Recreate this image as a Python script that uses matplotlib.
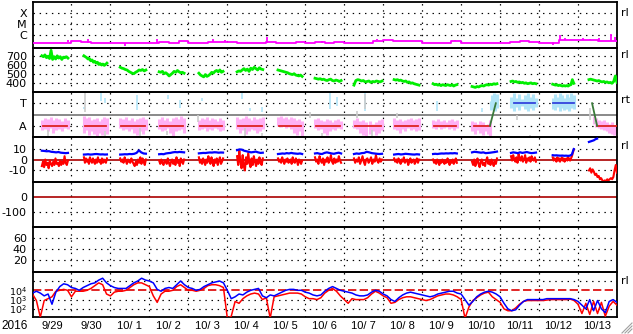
import numpy as np
import matplotlib
matplotlib.use('Agg')
import matplotlib.pyplot as plt
from matplotlib.lines import Line2D

plt.rcParams['font.family'] = ['DejaVu Sans']
plt.rcParams['mathtext.fontset'] = 'dejavusans'

# ---------------- data ----------------
n_days = 15
day_labels = ['9/29', '9/30', '10/ 1', '10/ 2', '10/ 3', '10/ 4', '10/ 5', '10/ 6',
              '10/ 7', '10/ 8', '10/ 9', '10/10', '10/11', '10/12', '10/13']
year_label = '2016'

# X-ray flux (log10 W/m2), 0.25-day steps
xray_step = 0.25
xray_log = [-6.70, -6.72, -6.70, -6.70, -6.55, -6.60, -6.73, -6.73, -6.76, -6.76,
            -6.70, -6.70, -6.70, -6.68, -6.70, -6.55, -6.70, -6.70, -6.68, -6.60,
            -6.65, -6.70, -6.72, -6.72, -6.68, -6.70, -6.70, -6.68, -6.70, -6.65,
            -6.70, -6.65, -6.70, -6.72, -6.72, -6.50, -6.45, -6.55, -6.55, -6.55,
            -6.72, -6.72, -6.72, -6.50, -6.72, -6.75, -6.70, -6.70, -6.70, -6.68,
            -6.52, -6.60, -6.70, -6.70, -6.45, -6.45, -6.45, -6.45, -6.55, -6.50, -6.50]
xray_spike_t = [0.92, 1.42, 2.38, 3.20, 4.63, 4.94, 6.02, 7.43, 8.84, 10.84,
                13.36, 13.54, 13.67, 14.12, 14.30, 14.55, 14.84, 14.95]
xray_spike_v = [-6.45, -6.40, -6.97, -6.40, -6.40, -6.45, -6.20, -6.50, -6.40, -6.45,
                -6.93, -6.00, -6.30, -6.30, -6.35, -6.25, -5.94, -6.20]

# data segments (days since 9/29 00UT)
seg_start = [0.24, 1.32, 2.25, 3.25, 4.27, 5.25, 6.30, 7.25, 8.25, 9.28, 10.28, 11.28, 12.28, 13.35, 14.28]
seg_end = [0.91, 1.91, 2.91, 3.89, 4.89, 5.91, 6.92, 7.92, 8.97, 9.92, 10.89, 11.92, 12.92, 13.89, 15.0]

# solar wind speed (km/s)
vsw = [
    [700, 690, 710, 680, 695, 670, 760, 660, 690, 665, 700, 675, 690, 660, 685, 680, 690, 675],
    [700, 690, 680, 665, 670, 645, 655, 630, 640, 620, 630, 605, 615, 600, 610, 595, 605, 620],
    [575, 565, 560, 550, 545, 530, 520, 510, 505, 520, 530, 545, 540, 550, 535, 545],
    [525, 520, 530, 505, 515, 500, 480, 495, 510, 530, 520, 540, 525, 515, 520, 510],
    [510, 490, 480, 470, 495, 475, 485, 500, 520, 510, 530, 540, 525, 545, 520, 530],
    [525, 535, 530, 545, 560, 540, 555, 530, 565, 550, 575, 560, 545, 570, 555, 550],
    [545, 540, 535, 530, 525, 520, 515, 505, 500, 495, 505, 490, 485, 480, 490, 475],
    [455, 450, 445, 450, 440, 445, 435, 430, 440, 445, 430, 425, 435, 430, 420, 430],
    [380, 430, 440, 435, 425, 430, 415, 420, 425, 410, 420, 415, 425, 420, 415, 425],
    [440, 435, 440, 430, 435, 425, 420, 425, 410, 415, 400, 405, 395, 390, 385, 380],
    [395, 385, 390, 380, 385, 375, 385, 380, 375, 385, 380, 375, 385, 370, 380, 385],
    [365, 360, 355, 365, 360, 370, 375, 370, 380, 385, 380, 390, 385, 395, 390, 395],
    [420, 425, 415, 420, 410, 415, 405, 410, 400, 405, 395, 400, 405, 395, 400, 395],
    [390, 385, 380, 385, 375, 380, 375, 370, 375, 370, 375, 370, 380, 385, 440, 400],
    [440, 445, 440, 435, 430, 425, 430, 420, 415, 420, 410, 415, 405, 410, 400, 420, 480, 410],
]

# composition panel: pink (A) blocks
pink_start = [0.24, 1.32, 2.25, 3.25, 4.27, 5.25, 6.30, 7.25, 8.25, 9.28, 10.28, 11.28, 14.40]
pink_end = [0.91, 1.91, 2.91, 3.89, 4.89, 5.91, 6.92, 7.92, 8.97, 9.92, 10.89, 11.75, 15.0]
pink_hi = [
    [-0.5, -0.3, -0.4, -0.2, -0.5, -0.3, -0.4, -0.6, -0.3, -0.5],
    [-0.1, -0.3, -0.2, -0.5, -0.4, -0.3, -0.6, -0.4, -0.2, -0.3],
    [-0.3, -0.4, -0.2, -0.5, -0.3, -0.6, -0.4, -0.3, -0.2, -0.4],
    [-0.4, -0.2, -0.5, -0.3, -0.6, -0.3, -0.2, -0.4, -0.1, -0.3],
    [-0.5, -0.3, -0.4, -0.2, -0.5, -0.3, -0.4, -0.6, -0.3, -0.5],
    [-0.2, -0.4, -0.3, -0.1, -0.3, -0.5, -0.2, -0.4, -0.3, -0.2],
    [-0.2, -0.1, -0.3, -0.2, -0.4, -0.2, -0.3, -0.5, -0.4, -0.6],
    [-0.4, -0.3, -0.5, -0.6, -0.4, -0.5, -0.7, -0.5, -0.4, -0.6],
    [-0.5, -0.3, -0.6, -0.5, -0.7, -0.6, -0.8, -0.7, -0.5, -0.4],
    [-0.3, -0.5, -0.4, -0.6, -0.5, -0.4, -0.3, -0.5, -0.4, -0.3],
    [-0.5, -0.6, -0.4, -0.6, -0.5, -0.7, -0.5, -0.4, -0.6, -0.5],
    [-0.6, -0.7, -0.8, -0.6, -0.7, -0.9, -0.8, -0.5],
    [-0.1, -0.3, -0.5, -0.6, -0.5, -0.7, -0.8, -0.7, -0.9, -0.8],
]
pink_lo = [
    [-1.4, -1.3, -1.5, -1.2, -1.6, -1.4, -1.3, -1.5, -1.2, -1.3],
    [-1.6, -1.4, -1.8, -1.5, -1.7, -1.9, -1.6, -1.8, -1.5, -1.7],
    [-1.2, -1.4, -1.3, -1.5, -1.3, -1.6, -1.8, -1.5, -1.7, -1.4],
    [-1.3, -1.5, -1.4, -1.2, -1.6, -1.9, -1.5, -1.4, -1.3, -1.6],
    [-1.4, -1.3, -1.2, -1.5, -1.3, -1.4, -1.2, -1.3, -1.5, -1.4],
    [-1.3, -1.6, -1.4, -1.7, -1.5, -1.3, -1.4, -1.6, -1.5, -1.3],
    [-1.0, -1.1, -1.0, -1.2, -1.1, -1.3, -1.6, -1.8, -1.5, -1.9],
    [-1.2, -1.4, -1.3, -1.6, -1.8, -1.5, -1.3, -1.4, -1.2, -1.3],
    [-1.2, -1.3, -1.6, -1.8, -1.9, -1.7, -1.5, -1.8, -1.6, -1.4],
    [-1.3, -1.4, -1.6, -1.3, -1.5, -1.2, -1.4, -1.3, -1.5, -1.4],
    [-1.2, -1.3, -1.1, -1.3, -1.2, -1.1, -1.3, -1.2, -1.4, -1.2],
    [-1.5, -1.7, -1.4, -1.6, -1.8, -1.5, -1.7, -1.9],
    [-0.8, -1.1, -1.2, -1.3, -1.4, -1.5, -1.6, -1.7, -1.8, -1.6],
]
# composition panel: light-blue (T) blocks
tblk_start = [11.76, 12.28, 13.35]
tblk_end = [11.92, 12.92, 13.89]
tblk_hi = [[1.2, 1.7, 1.9, 1.5, 1.8],
           [1.6, 1.9, 1.5, 1.8, 1.4, 1.7, 1.9, 1.6, 1.8, 1.5],
           [1.5, 1.8, 1.6, 1.9, 1.7, 1.5, 1.8, 1.6, 1.9, 1.7]]
tblk_lo = [[0.4, 0.8, 0.5, 0.3, 0.6],
           [0.6, 0.3, 0.7, 0.4, 0.8, 0.5, 0.3, 0.6, 0.4, 0.7],
           [0.5, 0.4, 0.7, 0.3, 0.6, 0.4, 0.5, 0.3, 0.6, 0.5]]
# isolated light-blue samples
lb_t = [1.32, 1.75, 1.85, 2.68, 3.48, 3.78, 4.35, 5.38, 5.58, 5.89, 7.63, 7.81, 8.53, 10.38, 11.53]
lb_lo = [0.5, 1.2, 1.0, 0.4, 1.4, 0.6, 1.2, 1.4, 0.3, 0.2, 0.5, 0.8, 0.3, 0.3, 0.2]
lb_hi = [0.7, 1.9, 1.5, 1.7, 1.7, 1.3, 1.5, 1.9, 0.6, 0.7, 1.9, 1.6, 1.9, 1.2, 0.6]
# isolated grey samples
gr_t = [0.40, 1.35, 1.86, 2.76, 3.45, 4.26, 5.45, 5.89, 7.12, 7.43, 8.33, 8.53, 8.71, 9.36, 12.43, 12.77, 14.31, 14.43]
gr_lo = [-1.9, 0.2, -1.9, -1.9, -1.8, -0.7, -1.9, -1.9, -0.3, -1.9, -0.3, 0.5, -1.9, -0.3, -0.5, -2.0, -0.5, -0.8]
gr_hi = [-1.4, 1.9, -1.5, -1.2, -1.5, 0.0, -1.2, -1.6, 0.2, -1.6, 0.3, 1.8, -1.4, 0.1, 0.0, -1.8, 0.6, -0.4]
# sector (A = away, T = toward)
sector_start = [0.27, 1.35, 2.28, 3.28, 4.30, 5.28, 6.33, 7.28, 8.28, 9.31, 10.31, 11.33, 12.36, 13.36, 14.49]
sector_end = [0.89, 1.89, 2.89, 3.87, 4.87, 5.89, 6.90, 7.90, 8.95, 9.90, 10.87, 11.74, 12.90, 13.89, 15.0]
sector_val = ['A', 'A', 'A', 'A', 'A', 'A', 'A', 'A', 'A', 'A', 'A', 'A', 'T', 'T', 'A']
sector_sw_t = [[11.74, 11.89], [14.36, 14.49]]
sector_sw_v = [['A', 'T'], ['T', 'A']]

# IMF Bt (nT)
bt_start = seg_start
bt_end = seg_end[:-1] + [14.49]
bt = [
    [8.0, 7.8, 7.5, 7.6, 7.0, 6.8, 6.5, 6.8, 6.2, 6.0, 5.8, 6.0],
    [4.5, 4.6, 4.8, 4.5, 4.6, 4.9, 5.0, 4.8, 4.6, 4.7, 4.5, 4.6],
    [4.5, 4.6, 4.8, 4.7, 5.0, 4.9, 5.2, 6.0, 8.3, 6.5, 5.5, 5.3],
    [4.8, 5.0, 4.8, 5.5, 5.8, 6.0, 6.5, 6.8, 6.6, 6.9, 6.7, 6.5],
    [5.6, 5.8, 6.0, 5.9, 6.2, 6.4, 6.3, 6.6, 6.5, 6.2, 6.4, 6.3],
    [8.5, 9.2, 9.0, 8.0, 7.5, 7.0, 6.5, 6.8, 7.2, 6.5, 6.0, 6.2],
    [5.0, 5.2, 5.5, 5.3, 5.8, 5.5, 6.0, 5.6, 5.4, 5.2, 5.5, 5.0],
    [5.5, 5.8, 5.2, 5.0, 6.0, 6.5, 6.0, 5.5, 5.2, 5.8, 6.2, 5.5],
    [5.0, 5.5, 5.2, 5.8, 6.0, 7.0, 6.5, 5.8, 5.5, 5.2, 5.0, 5.2],
    [4.5, 4.8, 5.0, 4.6, 4.8, 5.2, 5.0, 4.8, 4.6, 4.5, 4.8, 4.6],
    [5.0, 5.2, 5.0, 5.3, 5.5, 5.4, 5.6, 5.5, 5.7, 5.6, 5.8, 5.5],
    [6.5, 7.0, 6.8, 6.5, 6.2, 6.5, 5.8, 6.0, 6.2, 6.5, 6.8, 7.2],
    [6.0, 6.5, 6.2, 5.8, 6.6, 6.0, 6.4, 6.8, 6.2, 5.8, 6.0, 6.3],
    [3.9, 3.7, 3.8, 3.6, 3.5, 3.6, 3.4, 3.5, 3.3, 3.5, 4.5, 9.5],
    [16.0, 16.5, 17.0, 17.5, 18.5, 19.0],
]
# IMF Bz (nT)
bz = [
    [-6, -2, -7, 0, -5, -3, -8, -1, -4, -6, -2, -5, 1, -4, -3, -6, -1, -5, -2, -4, 3, -3, -5, -1],
    [2, -3, 1, -2, 0, -4, 2, -1, -3, 1, -2, -4, 0, -3, 2, -2, -1, -4, 1, -3, 0, -2, -3, 1],
    [1, -2, 0, -3, 2, -1, -4, 0, -2, -3, 1, -2, -4, -6, -2, -5, 0, -3, 2, -4, 1, -2, -5, 0],
    [-1, -4, 0, -3, -5, -1, -2, -4, 1, -3, -6, -2, 0, -4, -1, -5, 2, -3, -1, -6, 1, -2, -4, 0],
    [2, -3, 0, -4, 1, -2, -5, 0, -3, 3, -1, -4, 2, -2, -6, 0, -3, 1, -5, -1, 2, -4, -2, 1],
    [3, -5, 8, -2, -8, 4, -6, -10, 2, -4, 6, -3, -7, 1, -5, 3, -2, -6, 0, -4, 2, -3, -5, 1],
    [1, -2, 0, -3, 2, -1, -4, 0, -2, 1, -3, -1, 0, -4, 2, -2, -3, 1, -1, -5, 0, -2, -4, -1],
    [2, -2, 0, -4, 3, -1, -3, 1, -5, 0, -2, 2, -3, -1, 4, -2, -4, 1, -3, 0, -2, 3, -1, -3],
    [1, -3, 0, -2, 2, -4, -1, 3, -2, -5, 0, 1, -3, -1, 2, -4, 0, -2, 4, -1, -3, 1, -2, 0],
    [1, -2, 0, -3, 1, -1, -4, 0, -2, 2, -3, -1, 0, -5, -2, 1, -3, -1, 0, -4, -2, 1, -3, 0],
    [0, -3, -1, -4, 0, -2, -5, -1, -3, 0, -2, -4, -1, -3, 1, -2, -5, -1, -3, 0, -4, -2, 1, -3],
    [-2, -5, 0, -6, -3, 1, -4, -7, -2, 0, -5, -3, -6, -1, 2, -4, -2, -5, 0, -3, -6, -1, -4, 1],
    [3, -1, 4, 0, -2, 2, -3, 5, 1, -1, 3, -2, 0, 4, -3, 1, -1, 2, -2, 3, 0, -1, 2, -2],
    [2, -1, 1, 0, -2, 2, -1, 1, -2, 0, 2, -1, 1, -2, 0, 1, -1, 2, 0, -1, 1, 3, 6, 9],
    [-10, -8, -12, -9, -11, -14, -13, -16, -15, -18, -17, -19, -20, -19, -20, -18, -19, -18, -17, -18, -16, -10, -5, -12],
]

# >2 MeV electron flux (log10), 0.1-day steps, two satellites
elec_step = 0.1
elec_blue = [3.7, 3.9, 3.7, 3.4, 3.6, 2.5, 3.8, 4.4, 4.7, 4.6,
             4.3, 4.2, 4.0, 4.3, 4.5, 4.7, 4.8, 5.1, 5.3, 4.8,
             4.5, 4.3, 4.2, 4.2, 4.2, 4.5, 4.8, 5.0, 5.3, 5.1,
             5.0, 4.8, 4.1, 3.9, 4.2, 4.3, 4.2, 4.6, 5.0, 4.6,
             4.3, 4.2, 4.0, 4.1, 4.4, 4.6, 4.8, 4.9, 5.0, 4.8,
             4.0, 3.1, 3.3, 3.6, 3.5, 3.8, 4.0, 4.1, 4.2, 3.4,
             3.2, 3.5, 3.4, 3.6, 3.8, 4.0, 4.1, 4.1, 4.0, 4.0,
             3.8, 3.7, 3.5, 3.4, 3.5, 3.9, 4.2, 4.4, 4.2, 4.0,
             3.9, 3.8, 3.7, 3.5, 3.4, 3.4, 3.5, 3.8, 4.0, 3.9,
             3.6, 3.4, 3.0, 2.8, 3.2, 3.5, 3.7, 3.8, 3.7, 3.6,
             3.5, 3.4, 3.3, 3.4, 3.6, 3.7, 3.8, 3.9, 3.9, 3.7,
             3.6, 3.0, 2.4, 2.8, 3.3, 3.6, 3.8, 3.9, 3.8, 3.6,
             3.3, 2.6, 2.0, 1.8, 1.9, 2.4, 2.8, 3.0, 3.0, 3.0,
             3.0, 3.0, 3.1, 3.1, 3.1, 3.1, 3.1, 3.1, 3.1, 3.0,
             2.8, 2.4, 2.0, 3.0, 1.8, 2.9, 2.0, 1.6, 2.8, 3.0, 2.7]
elec_red = [3.6, 2.9, 1.1, 2.9, 3.1, 3.3, 3.9, 4.0, 4.1, 4.0,
            3.3, 3.9, 3.9, 3.9, 4.0, 4.2, 4.5, 4.8, 4.6, 3.6,
            3.4, 3.8, 3.9, 3.9, 4.0, 4.3, 4.6, 4.8, 4.8, 4.6,
            4.4, 3.4, 2.7, 3.6, 3.9, 3.9, 4.0, 4.4, 4.6, 4.3,
            4.0, 4.0, 3.9, 4.0, 4.2, 4.5, 4.6, 4.6, 4.5, 4.3,
            1.0, 1.2, 2.8, 2.6, 3.1, 3.4, 3.6, 3.7, 3.6, 3.0,
            3.2, 1.0, 3.3, 3.4, 3.5, 3.6, 3.7, 3.7, 3.7, 3.6,
            3.3, 3.1, 3.1, 3.0, 3.2, 3.7, 4.0, 4.2, 3.9, 3.4,
            3.0, 2.6, 3.1, 3.0, 3.0, 3.0, 3.2, 3.6, 3.9, 3.7,
            3.4, 3.2, 2.6, 2.7, 3.0, 3.2, 3.3, 3.3, 3.2, 3.1,
            3.0, 2.9, 3.0, 3.2, 3.4, 3.5, 3.6, 3.6, 3.5, 3.3,
            3.0, 1.0, 2.2, 2.9, 3.2, 3.5, 3.7, 3.8, 3.3, 3.0,
            2.7, 2.0, 1.8, 1.8, 2.1, 2.5, 2.8, 2.9, 2.9, 2.9,
            2.9, 2.9, 2.95, 3.0, 3.0, 3.0, 3.0, 3.0, 3.05, 2.9,
            2.5, 1.5, 2.6, 1.4, 2.8, 1.5, 2.7, 1.2, 2.3, 2.8, 2.4]
elec_threshold = 4.0

# ---------------- layout ----------------
W, H = 633, 334
fig = plt.figure(figsize=(W / 100, H / 100), dpi=100)
fig.patch.set_facecolor('white')
L_px, R_px = 32.5, 617
panels_px = [(2, 48), (48, 92), (92, 137), (137, 182), (182, 227), (227, 272), (272, 316.5)]
DOT = (0, (1.2, 4))


def make_panel(top, bot, ylim, ticks, labels, grid, lsize=8):
    ax = fig.add_axes([L_px / W, 1 - bot / H, (R_px - L_px) / W, (bot - top) / H])
    ax.set_xlim(0, n_days)
    ax.set_ylim(*ylim)
    ax.set_xticks([])
    ax.set_yticks(ticks)
    ax.set_yticklabels(labels)
    ax.tick_params(axis='y', length=0, labelsize=lsize, pad=4)
    for s in ax.spines.values():
        s.set_linewidth(1.3)
        s.set_color('black')
    for d in range(1, n_days):
        ax.axvline(d, color='black', lw=0.85, ls=DOT, zorder=1)
    for g in grid:
        ax.axhline(g, color='black', lw=0.85, ls=DOT, zorder=1)
    ax.patch.set_alpha(0)
    return ax


# 1: X-ray
ax1 = make_panel(*panels_px[0], (-7.18, -3.0), [-4, -5, -6], ['X', 'M', 'C'], [-4, -5, -6])
t_x = np.arange(len(xray_log)) * xray_step
ax1.plot(t_x, xray_log, color='#ff00ff', lw=1.3, drawstyle='steps-post', zorder=3)
base_at = np.interp(xray_spike_t, t_x, xray_log)
ax1.vlines(xray_spike_t, base_at, xray_spike_v, color='#ff00ff', lw=1.3, zorder=3)

# 2: solar wind speed
ax2 = make_panel(*panels_px[1], (305, 785), [700, 600, 500, 400], ['700', '600', '500', '400'],
                 [700, 600, 500, 400])
for s0, s1, v in zip(seg_start, seg_end, vsw):
    ax2.plot(np.linspace(s0, s1, len(v)), v, color='#00ee00', lw=2.0, zorder=3)

# 3: composition / sector
ax3 = make_panel(*panels_px[2], (-2, 2), [1, -1], ['T', 'A'], [1, -1])
ax3.axhline(0, color='#808080', lw=1.3, zorder=2)
for s0, s1, hi, lo in zip(pink_start, pink_end, pink_hi, pink_lo):
    tt = np.linspace(s0, s1, len(hi))
    ax3.vlines(tt, lo, hi, color='#ffb0f5', lw=2.2, zorder=2)
for s0, s1, hi, lo in zip(tblk_start, tblk_end, tblk_hi, tblk_lo):
    tt = np.linspace(s0, s1, len(hi))
    ax3.vlines(tt, lo, hi, color='#b0e4f8', lw=2.2, zorder=2)
ax3.vlines(lb_t, lb_lo, lb_hi, color='#b0e4f8', lw=1.2, zorder=2)
ax3.vlines(gr_t, gr_lo, gr_hi, color='#cccccc', lw=1.2, zorder=2)
lvl = {'A': -1, 'T': 1}
for s0, s1, sv in zip(sector_start, sector_end, sector_val):
    ax3.plot([s0, s1], [lvl[sv]] * 2, color='#dd2222' if sv == 'A' else '#3344dd', lw=1.3, zorder=4)
for tt, vv in zip(sector_sw_t, sector_sw_v):
    ax3.plot(tt, [lvl[v] for v in vv], color='#3a7a3a', lw=1.3, zorder=4)

# 4: IMF
ax4 = make_panel(*panels_px[3], (-20.5, 20.5), [10, 0, -10], ['10', '0', '-10'], [10, -10])
ax4.axhline(0, color='#aa0000', lw=1.2, zorder=2)
for s0, s1, v in zip(seg_start, seg_end, bz):
    ax4.plot(np.linspace(s0, s1, len(v)), v, color='#ff0000', lw=1.5, zorder=3)
for s0, s1, v in zip(bt_start, bt_end, bt):
    ax4.plot(np.linspace(s0, s1, len(v)), v, color='#0000ff', lw=1.6, zorder=4)

# 5: Dst (no data)
ax5 = make_panel(*panels_px[4], (-206, 106), [0, -100], ['0', '-100'], [-100])
ax5.axhline(0, color='#aa0000', lw=1.2, zorder=2)

# 6: (no data)
ax6 = make_panel(*panels_px[5], (-2, 81), [60, 40, 20], ['60', '40', '20'], [60, 40, 20])

# 7: electrons
ax7 = make_panel(*panels_px[6], (1.18, 5.97), [4, 3, 2], ['$10^4$', '$10^3$', '$10^2$'], [5, 3, 2],
                 lsize=6.8)
t_e = np.arange(len(elec_blue)) * elec_step
ax7.axhline(elec_threshold, color='#dd0000', lw=1.2, ls=(0, (5, 2)), zorder=2)
ax7.plot(t_e, elec_red, color='#ff0000', lw=1.1, zorder=3)
ax7.plot(t_e, elec_blue, color='#0000ff', lw=1.1, zorder=4)
ax7.set_xticks(np.arange(n_days) + 0.5)
ax7.set_xticklabels(day_labels, family='Liberation Sans', fontsize=8)
ax7.tick_params(axis='x', length=0, pad=3)
fig.text(15 / W, 1 - 326 / H, year_label, family='Liberation Sans', fontsize=8.5,
         ha='center', va='center')

# right-side markers
for y in [13, 55, 100, 146, 281]:
    fig.text(621 / W, 1 - y / H, 'rt' if y == 100 else 'rl', fontsize=8, ha='left', va='center')

# resize grip
for a, b in [((622, 333), (632, 323)), ((625, 333), (632, 326)), ((628, 333), (632, 329))]:
    fig.add_artist(Line2D([a[0] / W, b[0] / W], [1 - a[1] / H, 1 - b[1] / H],
                          transform=fig.transFigure, color='#a0a0a0', lw=0.8))

fig.savefig('out.png', dpi=100)
